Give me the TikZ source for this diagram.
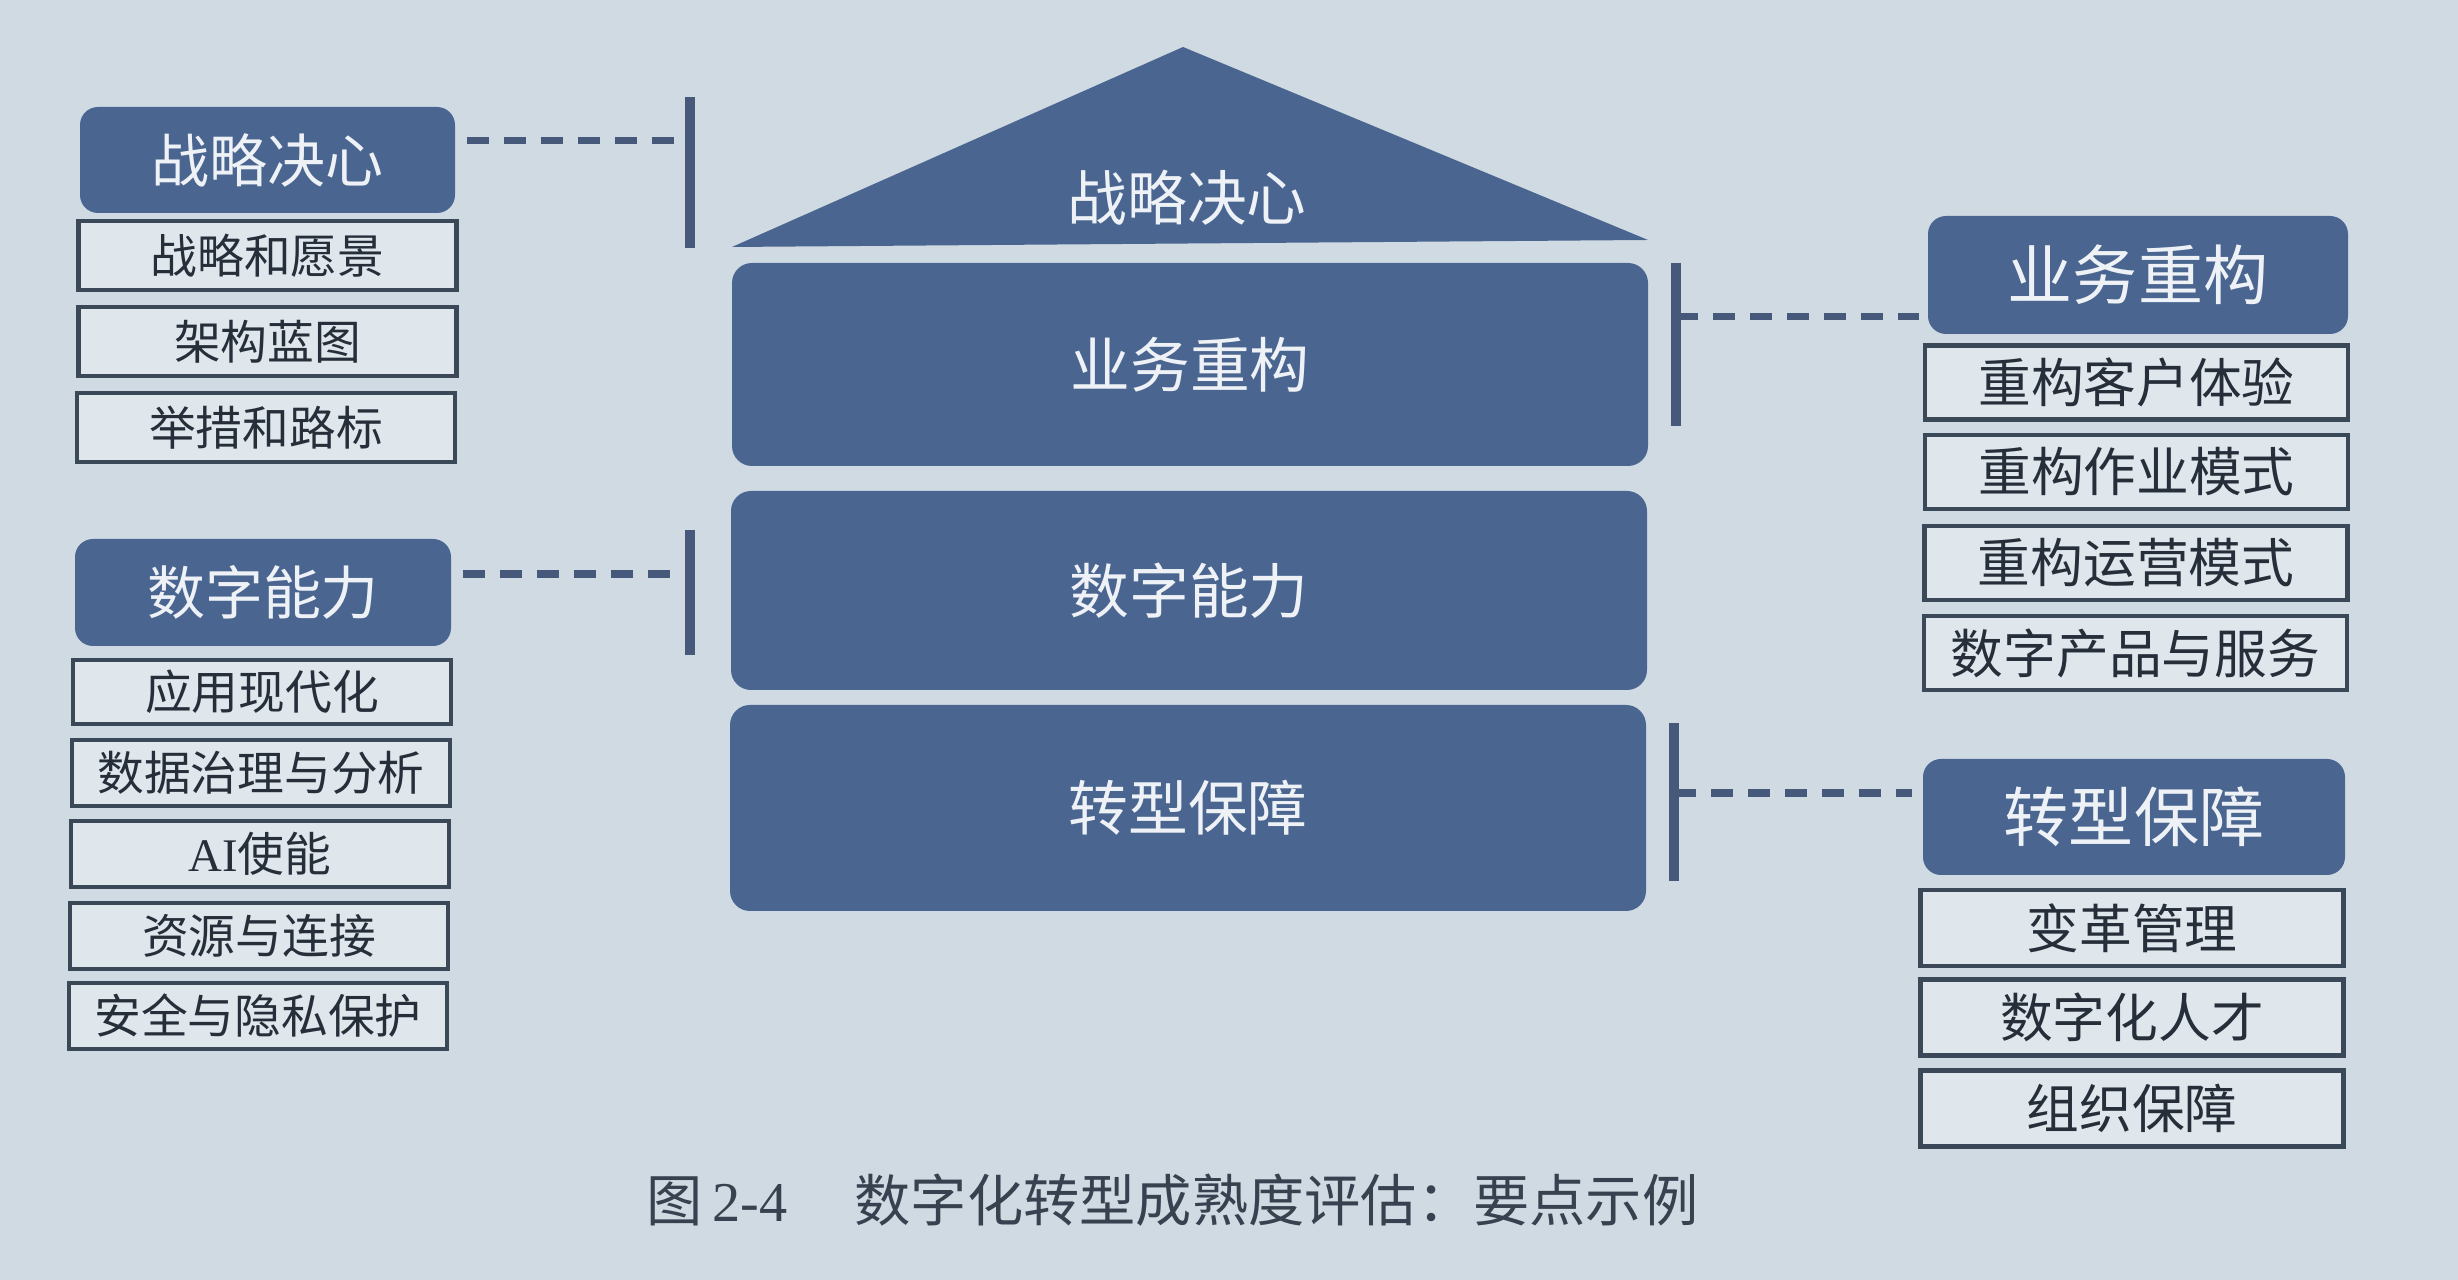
\documentclass[tikz,border=0pt]{standalone}
\usepackage{fontspec}
\setmainfont{Liberation Serif}
\newfontfamily\cjk{Noto Sans CJK SC}
\usetikzlibrary{calc}
\definecolor{bgc}{HTML}{CFDAE3}
\definecolor{navy}{HTML}{4A6690}
\definecolor{hdrtext}{HTML}{EEF2F6}
\definecolor{subfill}{HTML}{DFE6EC}
\definecolor{subline}{HTML}{3B4858}
\definecolor{subtext}{HTML}{262E3A}
\definecolor{barc}{HTML}{47597A}
\definecolor{captc}{HTML}{37414F}
\begin{document}
\begin{tikzpicture}[
  hdr/.style={fill=navy, rounded corners=0.18cm, text=hdrtext, inner sep=0pt},
  lhdr/.style={hdr, font={\cjk\fontsize{16.5pt}{19pt}\selectfont}},
  rhdr/.style={hdr, font={\cjk\fontsize{18.5pt}{21pt}\selectfont}},
  block/.style={fill=navy, rounded corners=0.2cm, text=hdrtext, inner sep=0pt,
    minimum width=9.16cm, font={\cjk\fontsize{17pt}{20pt}\selectfont}},
  subbox/.style={draw=subline, line width=1.3pt, fill=subfill, text=subtext, inner sep=0pt},
  lsub/.style={subbox, minimum width=3.78cm, font={\cjk\fontsize{13.3pt}{16pt}\selectfont}},
  rsub/.style={subbox, minimum width=4.23cm, minimum height=0.74cm, font={\cjk\fontsize{15pt}{18pt}\selectfont}},
  barline/.style={draw=barc, line width=2.8pt},
  dashline/.style={draw=barc, line width=2pt, dash pattern=on 0.22cm off 0.15cm}
]
\fill[bgc] (0,0) rectangle (24.58,-12.8);
\useasboundingbox (0,0) rectangle (24.58,-12.8);

% ---------- centre house ----------
\coordinate (apex) at (11.83,-0.47);
\coordinate (roofl) at (7.32,-2.47);
\coordinate (roofr) at (16.48,-2.40);
\fill[navy] (roofl) -- (apex) -- (roofr) -- cycle;
\node[text=hdrtext, font={\cjk\fontsize{17pt}{20pt}\selectfont}] (roof) at (11.87,-1.98) {战略决心};
\node[block, minimum height=2.03cm] (b1) at (11.90,-3.645) {业务重构};
\node[block, minimum height=1.99cm] (b2) at (11.89,-5.905) {数字能力};
\node[block, minimum height=2.06cm] (b3) at (11.88,-8.08) {转型保障};

% ---------- left group 1 ----------
\node[lhdr, minimum width=3.75cm, minimum height=1.06cm] (lh1) at (2.675,-1.60) {战略决心};
\node[lsub, minimum height=0.69cm] (ls1) at (2.675,-2.555) {战略和愿景};
\node[lsub, minimum height=0.69cm] (ls2) at (2.675,-3.415) {架构蓝图};
\node[lsub, minimum height=0.69cm] (ls3) at (2.66,-4.275) {举措和路标};
\coordinate (bl1t) at (6.90,-0.97);
\coordinate (bl1b) at (6.90,-2.48);
\draw[barline] (bl1t) -- (bl1b);
\coordinate (dl1) at ($(lh1.east)+(0.11,0.19)$);
\draw[dashline] (dl1) -- (bl1t |- dl1);

% ---------- left group 2 ----------
\node[lhdr, minimum width=3.76cm, minimum height=1.07cm] (lh2) at (2.63,-5.925) {数字能力};
\node[lsub, minimum height=0.64cm] (m1) at (2.62,-6.92) {应用现代化};
\node[lsub, minimum height=0.66cm] (m2) at (2.61,-7.73) {数据治理与分析};
\node[lsub, minimum height=0.66cm] (m3) at (2.60,-8.54) {{\rmfamily AI}使能};
\node[lsub, minimum height=0.66cm] (m4) at (2.59,-9.36) {资源与连接};
\node[lsub, minimum height=0.66cm] (m5) at (2.58,-10.16) {安全与隐私保护};
\coordinate (bl2t) at (6.90,-5.30);
\coordinate (bl2b) at (6.90,-6.55);
\draw[barline] (bl2t) -- (bl2b);
\coordinate (dl2) at ($(lh2.east)+(0.11,0.185)$);
\draw[dashline] (dl2) -- (bl2t |- dl2);

% ---------- right group 1 ----------
\node[rhdr, minimum width=4.20cm, minimum height=1.18cm] (rh1) at (21.38,-2.75) {业务重构};
\node[rsub] (r1) at (21.365,-3.825) {重构客户体验};
\node[rsub] (r2) at (21.365,-4.72) {重构作业模式};
\node[rsub] (r3) at (21.36,-5.63) {重构运营模式};
\node[rsub] (r4) at (21.355,-6.53) {数字产品与服务};
\coordinate (br1t) at (16.76,-2.63);
\coordinate (br1b) at (16.76,-4.26);
\draw[barline] (br1t) -- (br1b);
\coordinate (dr1) at ($(rh1.west)+(-0.08,-0.42)$);
\draw[dashline] (br1t |- dr1) -- (dr1);

% ---------- right group 2 ----------
\node[rhdr, minimum width=4.22cm, minimum height=1.16cm] (rh2) at (21.34,-8.17) {转型保障};
\node[rsub, minimum height=0.76cm] (t1) at (21.32,-9.28) {变革管理};
\node[rsub, minimum height=0.76cm] (t2) at (21.32,-10.175) {数字化人才};
\node[rsub, minimum height=0.76cm] (t3) at (21.32,-11.085) {组织保障};
\coordinate (br2t) at (16.74,-7.23);
\coordinate (br2b) at (16.74,-8.81);
\draw[barline] (br2t) -- (br2b);
\coordinate (dr2) at ($(rh2.west)+(-0.10,0.24)$);
\draw[dashline] (br2t |- dr2) -- (dr2);

% ---------- caption ----------
\node[anchor=west, text=captc, inner sep=0pt, font={\fontsize{16pt}{19pt}\selectfont}] (cap) at (6.46,-12.0)
  {{\cjk 图}\,2-4\hspace{1.2em}{\cjk 数字化转型成熟度评估：要点示例}};
\end{tikzpicture}
\end{document}
